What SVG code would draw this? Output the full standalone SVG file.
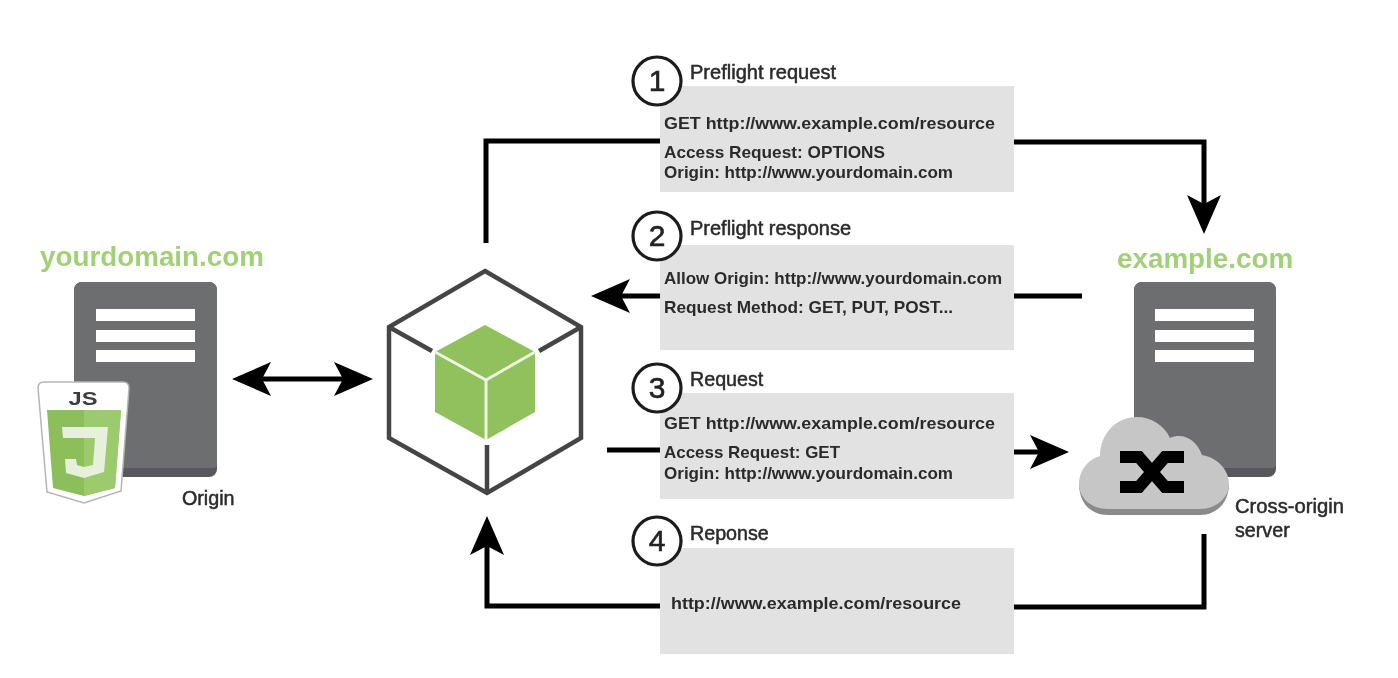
<svg xmlns="http://www.w3.org/2000/svg" width="1398" height="678" viewBox="0 0 1398 678">
<style>
.t{font-family:"Liberation Sans",Arial,sans-serif;font-size:17px;font-weight:700;fill:#2a2a2a}
.h{font-family:"Liberation Sans",Arial,sans-serif;font-size:19.7px;fill:#2a2a2a;stroke:#2a2a2a;stroke-width:.5}
.d{font-family:"Liberation Sans",Arial,sans-serif;font-size:27.8px;font-weight:700;fill:#a3cf78}
.n{font-family:"Liberation Sans",Arial,sans-serif;font-size:30px;fill:#222;stroke:#222;stroke-width:.6;text-anchor:middle}
.box{fill:#e2e2e2}
.c{fill:#fff;stroke:#1a1a1a;stroke-width:3.2}
.ln{fill:none;stroke:#000;stroke-width:5}
.srv{fill:#6d6e70}.srv2{fill:#58595b}.bar{fill:#fff}
.cb{fill:none;stroke:#444;stroke-width:4.5}
</style>
<defs>
<marker id="a" markerUnits="userSpaceOnUse" markerWidth="40" markerHeight="36" refX="33" refY="17" orient="auto-start-reverse" viewBox="0 0 40 34"><path d="M0 0L39 17L0 34L9 17Z" fill="#000"/></marker>
<filter id="s" x="0" y="0" width="1398" height="678" filterUnits="userSpaceOnUse"><feGaussianBlur stdDeviation="0.55"/></filter>
</defs>
<rect width="1398" height="678" fill="#fff"/>
<g filter="url(#s)">
<g id="connectors">
<path class="ln" d="M486 243V141H660"/>
<path class="ln" d="M1014 142H1204V228" marker-end="url(#a)"/>
<path class="ln" d="M1082 296H1014"/>
<path class="ln" d="M660 296H597" marker-end="url(#a)"/>
<path class="ln" d="M238 379H367" marker-start="url(#a)" marker-end="url(#a)"/>
<path class="ln" d="M607 450H660"/>
<path class="ln" d="M1014 452H1063" marker-end="url(#a)"/>
<path class="ln" d="M1204 534V607H1014"/>
<path class="ln" d="M660 606H487V522" marker-end="url(#a)"/>
</g>
<g id="origin-server">
<rect class="srv2" x="74" y="282" width="143" height="195" rx="8"/>
<path class="srv" d="M82 282H209a8 8 0 0 1 8 8V465a4 4 0 0 1-4 3H78a4 4 0 0 1-4-3V290a8 8 0 0 1 8-8Z"/>
<rect class="bar" x="96" y="309" width="99" height="12"/>
<rect class="bar" x="96" y="330" width="99" height="12"/>
<rect class="bar" x="96" y="350" width="99" height="12"/>
<text class="d" x="40" y="266">yourdomain.com</text>
<text class="h" x="182" y="505">Origin</text>
</g>
<g id="js-badge">
<path d="M44 382H123Q129 382 129 388L121 491L84 503L47 492L38 388Q38 382 44 382Z" fill="#fff" stroke="#b5b5b5" stroke-width="1.5"/>
<path d="M47 410H121L115 488L84 496L53 488Z" fill="#8cbf5a"/>
<path d="M84 410H121L115 488L84 496Z" fill="#9ccb6e"/>
<path d="M62 427H108L104 472L84 478L66 473L65 459H76L77 465L84 467L93 465L95 438H63Z" fill="#e6f0da"/>
<text x="83" y="405" font-family="'Liberation Sans',sans-serif" font-size="19" font-weight="700" fill="#3c3c3c" text-anchor="middle" textLength="29" lengthAdjust="spacingAndGlyphs">JS</text>
</g>
<g id="browser-cube">
<path class="cb" d="M485 271L581 327V438L487 493L389 438V327Z"/>
<path class="cb" d="M389 327L432 351M581 327L539 351M487 493V445"/>
<path d="M485 325L535 352V412L486 440L435 412V352Z" fill="#91c15d"/>
<path d="M435 352L486 380L535 352M486 380V440" fill="none" stroke="#eef6e4" stroke-width="3"/>
</g>
<g id="step-1">
<rect class="box" x="660" y="86" width="354" height="106"/>
<circle class="c" cx="657" cy="81" r="24"/>
<text class="n" x="657" y="91">1</text>
<text class="h" x="690" y="79" textLength="146" lengthAdjust="spacingAndGlyphs">Preflight request</text>
<text class="t" x="664" y="129" textLength="331" lengthAdjust="spacingAndGlyphs">GET http://www.example.com/resource</text>
<text class="t" x="664" y="158" textLength="221" lengthAdjust="spacingAndGlyphs">Access Request: OPTIONS</text>
<text class="t" x="664" y="178" textLength="289" lengthAdjust="spacingAndGlyphs">Origin: http://www.yourdomain.com</text>
</g>
<g id="step-2">
<rect class="box" x="660" y="245" width="354" height="105"/>
<circle class="c" cx="657" cy="236" r="24"/>
<text class="n" x="657" y="246">2</text>
<text class="h" x="690" y="235" textLength="161" lengthAdjust="spacingAndGlyphs">Preflight response</text>
<text class="t" x="664" y="284" textLength="338" lengthAdjust="spacingAndGlyphs">Allow Origin: http://www.yourdomain.com</text>
<text class="t" x="664" y="313" textLength="289" lengthAdjust="spacingAndGlyphs">Request Method: GET, PUT, POST...</text>
</g>
<g id="step-3">
<rect class="box" x="660" y="393" width="354" height="106"/>
<circle class="c" cx="657" cy="388" r="24"/>
<text class="n" x="657" y="398">3</text>
<text class="h" x="690" y="386">Request</text>
<text class="t" x="664" y="429" textLength="331" lengthAdjust="spacingAndGlyphs">GET http://www.example.com/resource</text>
<text class="t" x="664" y="458" textLength="176" lengthAdjust="spacingAndGlyphs">Access Request: GET</text>
<text class="t" x="664" y="479" textLength="289" lengthAdjust="spacingAndGlyphs">Origin: http://www.yourdomain.com</text>
</g>
<g id="step-4">
<rect class="box" x="660" y="548" width="354" height="106"/>
<circle class="c" cx="657" cy="541" r="24"/>
<text class="n" x="657" y="551">4</text>
<text class="h" x="690" y="540">Reponse</text>
<text class="t" x="671" y="609" textLength="290" lengthAdjust="spacingAndGlyphs">http://www.example.com/resource</text>
</g>
<g id="cross-origin-server">
<rect class="srv2" x="1134" y="282" width="142" height="195" rx="8"/>
<path class="srv" d="M1142 282H1268a8 8 0 0 1 8 8V465a4 4 0 0 1-4 3H1138a4 4 0 0 1-4-3V290a8 8 0 0 1 8-8Z"/>
<rect class="bar" x="1155" y="309" width="99" height="12"/>
<rect class="bar" x="1155" y="330" width="99" height="12"/>
<rect class="bar" x="1155" y="350" width="99" height="12"/>
<text class="d" x="1117" y="268">example.com</text>
<path d="M1108 515C1090 515 1079 502 1079 484L1229 484C1229 502 1217 515 1200 515Z" fill="#8a8a8a"/>
<path d="M1108 509C1090 509 1079 497 1079 484C1079 470 1089 459 1100 456C1100 435 1115 417 1137 417C1151 417 1164 425 1170 438C1184 432 1197 441 1202 455C1218 458 1229 470 1229 484C1229 497 1217 509 1200 509Z" fill="#c6c6c6"/>
<path d="M1120 457H1139L1165 487H1184M1120 487H1139L1165 457H1184" fill="none" stroke="#000" stroke-width="12"/>
<text class="h" x="1235" y="513" textLength="109" lengthAdjust="spacingAndGlyphs">Cross-origin</text>
<text class="h" x="1235" y="537">server</text>
</g>
</g>
</svg>
